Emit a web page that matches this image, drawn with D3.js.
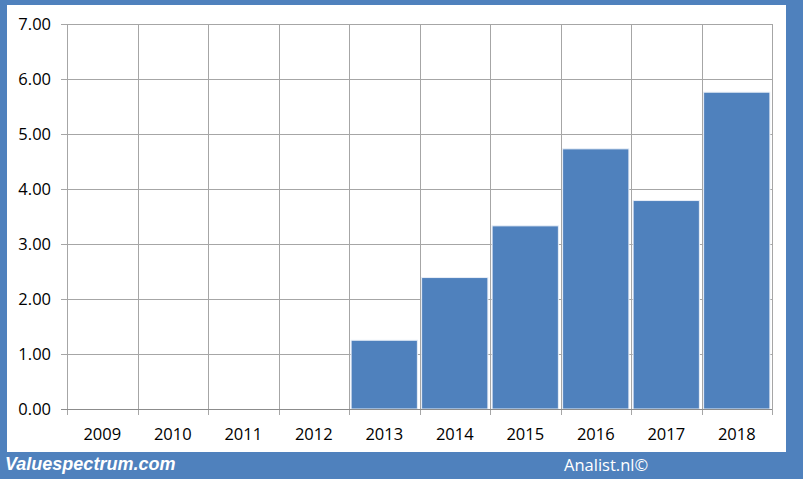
<!DOCTYPE html>
<html><head><meta charset="utf-8">
<script src="https://cdn.jsdelivr.net/npm/d3@7"></script>
<style>html,body{margin:0;padding:0;background:#fff;}</style>
</head><body>
<svg id="c" width="803" height="479"></svg>
<script>
const categories = ["2009","2010","2011","2012","2013","2014","2015","2016","2017","2018"];
const values = [null,null,null,null,1.25,2.39,3.33,4.73,3.79,5.76];
const yTicks = [0,1,2,3,4,5,6,7];

const svg = d3.select("#c");
const W = 803, H = 479;
const blue = "#4F81BD";
svg.append("rect").attr("width",W).attr("height",H).attr("fill",blue);
svg.append("rect").attr("x",7).attr("y",5).attr("width",779).attr("height",447).attr("fill","#fff");

const m = {l:67, r:772, t:24, b:409};
const x = d3.scaleBand().domain(categories).range([m.l,m.r]).paddingInner(0.06).paddingOuter(0.03);
const xb = d3.scaleBand().domain(categories).range([m.l,m.r]);
const y = d3.scaleLinear().domain([0,7]).range([m.b,m.t]);

const grid = svg.append("g");
grid.selectAll("line.h").data(yTicks).join("line")
  .attr("x1",m.l-6).attr("x2",m.r).attr("y1",d=>y(d)+0.5).attr("y2",d=>y(d)+0.5)
  .attr("stroke","#a6a6a6").attr("stroke-width",1);
const bounds = categories.map(c=>xb(c)).concat([m.r]);
grid.selectAll("line.v").data(bounds).join("line")
  .attr("x1",d=>Math.round(d)+0.5).attr("x2",d=>Math.round(d)+0.5)
  .attr("y1",m.t).attr("y2",m.b+6)
  .attr("stroke","#a6a6a6").attr("stroke-width",1);

svg.append("g").selectAll("rect").data(categories.map((c,i)=>({c,v:values[i]})).filter(d=>d.v!=null)).join("rect")
  .attr("x",d=>x(d.c)).attr("width",x.bandwidth())
  .attr("y",d=>y(d.v)).attr("height",d=>y(0)-y(d.v))
  .attr("fill",blue).attr("stroke","#e8eef7").attr("stroke-width",1);

svg.append("line").attr("x1",m.l-6).attr("x2",m.r).attr("y1",m.b+0.5).attr("y2",m.b+0.5)
  .attr("stroke","#8c8c8c");

const font = "'Open Sans', 'Liberation Sans', sans-serif";
svg.append("g").selectAll("text").data(yTicks).join("text")
  .attr("x",51).attr("y",d=>y(d)+6)
  .attr("text-anchor","end").attr("font-family",font).attr("font-size",16.5).attr("fill","#000")
  .text(d=>d3.format(".2f")(d));
svg.append("g").selectAll("text").data(categories).join("text")
  .attr("x",d=>xb(d)+xb.bandwidth()/2).attr("y",440)
  .attr("text-anchor","middle").attr("font-family",font).attr("font-size",16.5).attr("fill","#000")
  .text(d=>d);

svg.append("text").attr("x",5).attr("y",470).attr("font-family","'Liberation Sans', Arial, sans-serif")
  .attr("font-size",18).attr("font-weight","bold").attr("font-style","italic").attr("fill","#fff")
  .text("Valuespectrum.com");
svg.append("text").attr("x",564).attr("y",471).attr("font-family",font)
  .attr("font-size",16.5).attr("fill","#fff").text("Analist.nl©");
</script>
</body></html>
